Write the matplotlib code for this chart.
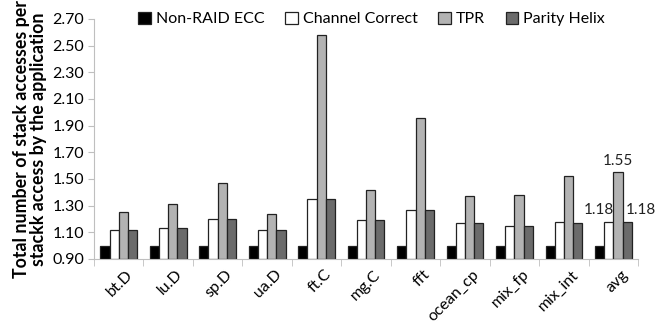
import numpy as np
import matplotlib.pyplot as plt

plt.rcParams['font.family'] = ['Lato', 'DejaVu Sans']

# Data
categories = ['bt.D', 'lu.D', 'sp.D', 'ua.D', 'ft.C', 'mg.C', 'fft',
              'ocean_cp', 'mix_fp', 'mix_int', 'avg']
non_raid = [1.00, 1.00, 1.00, 1.00, 1.00, 1.00, 1.00, 1.00, 1.00, 1.00, 1.00]
channel = [1.12, 1.13, 1.20, 1.12, 1.35, 1.19, 1.27, 1.17, 1.15, 1.18, 1.18]
tpr = [1.25, 1.31, 1.47, 1.24, 2.58, 1.42, 1.96, 1.37, 1.38, 1.52, 1.55]
parity = [1.12, 1.13, 1.20, 1.12, 1.35, 1.19, 1.27, 1.17, 1.15, 1.17, 1.18]

series = [
    ('Non-RAID ECC', non_raid, '#000000'),
    ('Channel Correct', channel, '#ffffff'),
    ('TPR', tpr, '#b3b3b3'),
    ('Parity Helix', parity, '#6b6b6b'),
]

fig = plt.figure(figsize=(6.62, 3.27), dpi=100)
ax = fig.add_axes([0.142, 0.208, 0.822, 0.734])

x = np.arange(len(categories))
w = 0.186
for i, (label, vals, color) in enumerate(series):
    pos = x + (i - 1.5) * w
    ax.bar(pos, np.array(vals) - 0.9, w, bottom=0.9, color=color,
           edgecolor='#222222', linewidth=0.9, label=label)

# value labels for the avg group
a = len(categories) - 1
ax.text(a - 0.5 * w - 0.2, channel[a] + 0.035, f'{channel[a]:.2f}',
        ha='center', va='bottom', fontsize=11, color='#222222')
ax.text(a + 0.5 * w, tpr[a] + 0.035, f'{tpr[a]:.2f}',
        ha='center', va='bottom', fontsize=11, color='#222222')
ax.text(a + 1.5 * w + 0.28, parity[a] + 0.035, f'{parity[a]:.2f}',
        ha='center', va='bottom', fontsize=11, color='#222222')

ax.set_xlim(-0.5, len(categories) - 0.5)
ax.set_ylim(0.9, 2.7)
ax.set_yticks(np.arange(0.9, 2.71, 0.2))
ax.set_yticklabels([f'{v:.2f}' for v in np.arange(0.9, 2.71, 0.2)])

ax.set_xticks(x + 0.15)
ax.set_xticklabels(categories, rotation=45, ha='right', rotation_mode='anchor')
ax.set_xticks(np.arange(-0.5, len(categories)), minor=True)
ax.tick_params(axis='x', which='major', length=0, pad=6, labelsize=11.5)
ax.tick_params(axis='x', which='minor', length=5, color='#bfbfbf')
ax.tick_params(axis='y', length=4, color='#bfbfbf', labelsize=11.5, pad=3)

for s in ['top', 'right']:
    ax.spines[s].set_visible(False)
for s in ['left', 'bottom']:
    ax.spines[s].set_color('#bfbfbf')

ax.set_ylabel('Total number of stack accesses per\nstackk access by the application',
              fontsize=12.8, fontweight='bold', labelpad=4, linespacing=1.0)

ax.legend(loc='upper center', bbox_to_anchor=(0.51, 1.09), ncol=4, frameon=False,
          fontsize=11.5, handlelength=0.8, handleheight=0.8, handletextpad=0.3,
          columnspacing=1.3)

fig.savefig('out.png', dpi=100)
